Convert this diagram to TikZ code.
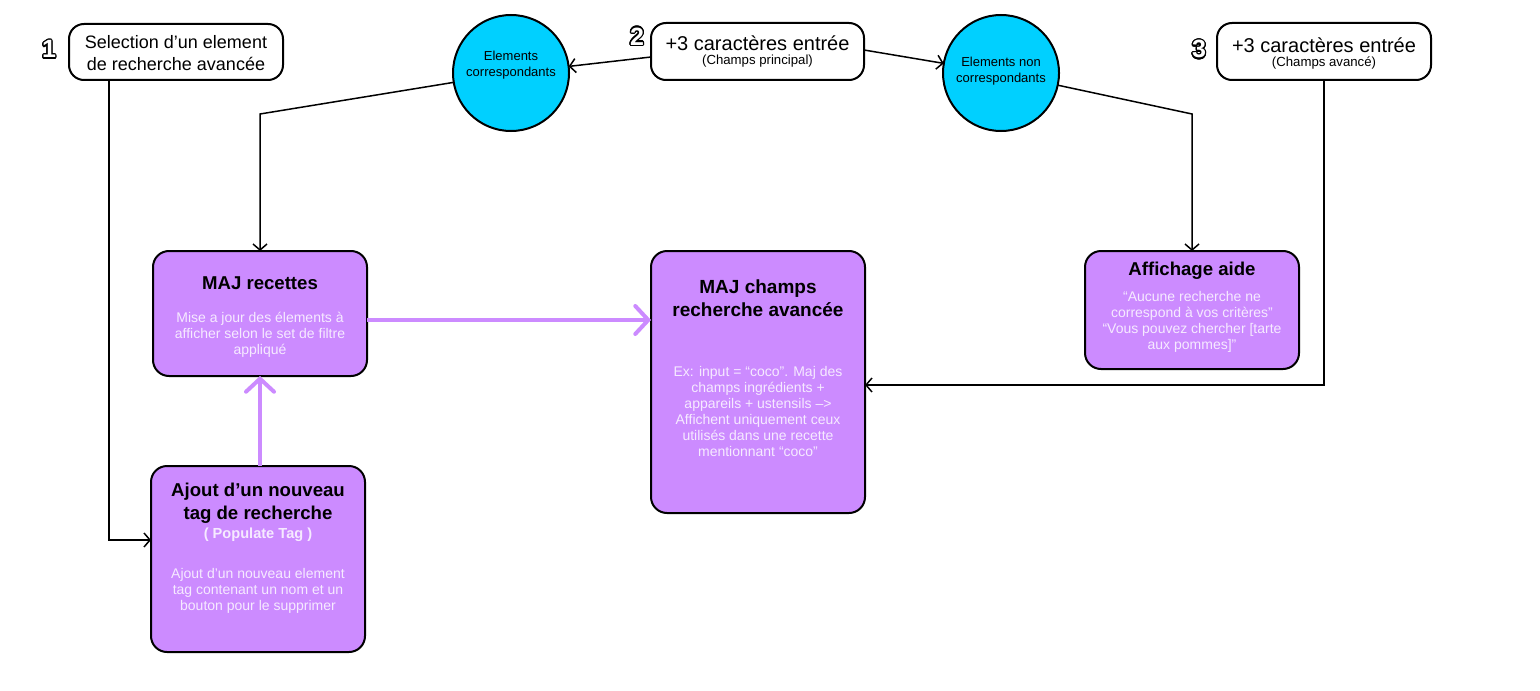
\documentclass[tikz,border=0pt]{standalone}
\usepackage{fontspec}
\setmainfont{Liberation Sans}
\usepackage{contour}
\contourlength{0.6pt}
\contournumber{24}
\usetikzlibrary{arrows.meta}
\definecolor{purp}{HTML}{CC8BFF}
\definecolor{cyanc}{HTML}{00D0FF}
\definecolor{bodytxt}{HTML}{F6EAFF}
\tikzset{
  wbox/.style={draw=black, line width=1pt, fill=white, rounded corners=7.5pt, inner sep=0pt, outer sep=0pt},
  pbox/.style={draw=black, line width=1pt, fill=purp, rounded corners=8pt, inner sep=0pt, outer sep=0pt, minimum width=107pt},
  circ/.style={draw=black, line width=1pt, fill=cyanc, circle, minimum size=58pt, inner sep=0pt, outer sep=0pt},
  txt/.style={inner sep=0pt, align=center},
  conn/.style={line width=0.75pt, -{Straight Barb[length=3pt,width=7pt]}},
  pconn/.style={draw=purp, line width=2pt, -{Straight Barb[length=6.5pt,width=14pt,line cap=round]}},
  numb/.style={inner sep=0pt, font=\bfseries\fontsize{12.5pt}{12.5pt}\selectfont},
  ttl/.style={txt, font=\bfseries\fontsize{9.3pt}{11.5pt}\selectfont},
  sml/.style={txt, text=bodytxt, font=\fontsize{7pt}{8pt}\selectfont},
}
\begin{document}
\begin{tikzpicture}[x=0.5pt, y=-0.5pt]
\useasboundingbox (0,0) rectangle (1540,690);
% top row
\node[wbox, minimum width=107pt, minimum height=28pt] (b1) at (176,52) {};
\node[txt, font=\fontsize{9pt}{11pt}\selectfont] (b1t) at (176,53) {Selection d’un element\\de recherche avancée};
\node[numb] (n1) at (49,50) {\contour{black}{\textcolor{white}{1}}};

\node[wbox, minimum width=106.5pt, minimum height=28.5pt] (b2) at (757.5,51.5) {};
\node[txt, font=\fontsize{10pt}{10pt}\selectfont] (b2t) at (757.5,43) {+3 caractères entrée};
\node[txt, font=\fontsize{6.6pt}{6.6pt}\selectfont] (b2s) at (757.5,61) {(Champs principal)};
\node[numb] (n2) at (637,37) {\contour{black}{\textcolor{white}{2}}};

\node[wbox, minimum width=107pt, minimum height=28.5pt] (b3) at (1324,51.5) {};
\node[txt, font=\fontsize{10pt}{10pt}\selectfont] (b3t) at (1324,45) {+3 caractères entrée};
\node[txt, font=\fontsize{6.6pt}{6.6pt}\selectfont] (b3s) at (1324,63) {(Champs avancé)};
\node[numb] (n3) at (1199,50) {\contour{black}{\textcolor{white}{3}}};

\node[circ] (c1) at (511,73) {};
\node[txt, font=\fontsize{6.5pt}{8.2pt}\selectfont] (c1t) at (511,65) {Elements\\correspondants};
\node[circ] (c2) at (1001,73) {};
\node[txt, font=\fontsize{6.5pt}{8.2pt}\selectfont] (c2t) at (1001,71) {Elements non\\correspondants};

% purple boxes
\node[pbox, minimum height=62.5pt] (m1) at (260,313.5) {};
\node[ttl] (m1t) at (260,283) {MAJ recettes};
\node[sml] (m1b) at (260,335) {Mise a jour des élements à\\afficher selon le set de filtre\\appliqué};

\node[pbox, minimum height=131pt] (m2) at (758,382) {};
\node[txt, font=\bfseries\fontsize{9.5pt}{11.5pt}\selectfont] (m2t) at (758,298) {MAJ champs\\recherche avancée};
\node[sml] (m2b) at (758,411) {Ex: input = “coco”. Maj des\\champs ingrédients +\\appareils + ustensils --{}>\\Affichent uniquement ceux\\utilisés dans une recette\\mentionnant “coco”};

\node[pbox, minimum height=59pt] (h1) at (1192,310) {};
\node[ttl] (h1t) at (1192,271) {Affichage aide};
\node[sml] (h1b) at (1192,322) {“Aucune recherche ne\\correspond à vos critères”\\“Vous pouvez chercher [tarte\\aux pommes]”};

\node[pbox, minimum height=93pt] (a1) at (258,559) {};
\node[ttl] (a1t) at (258,503.5) {Ajout d’un nouveau\\tag de recherche};
\node[txt, text=bodytxt, font=\bfseries\fontsize{7.3pt}{7.3pt}\selectfont] (a1p) at (258,535) {( Populate Tag )};
\node[sml] (a1b) at (258,591) {Ajout d’un nouveau element\\tag contenant un nom et un\\bouton pour le supprimer};

% connectors
\coordinate (k1) at (260,114);
\coordinate (k2) at (1192,114);
\coordinate (k3) at (1324,385);
\coordinate (k4) at (109,540);
\draw[conn] (b2.west |- 0,57) -- (c1);
\draw[conn] (b2.east |- 0,50) -- (c2);
\draw[conn] (c1) -- (k1) -- (m1.north);
\draw[conn] (c2) -- (k2) -- (h1.north);
\draw[conn] (b3.south) -- (k3) -- (m2.east |- k3);
\draw[conn] (b1.south -| k4) -- (k4) -- (a1.west |- k4);
\draw[pconn] (m1.east |- 0,320) -- (m2.west |- 0,320);
\draw[pconn] (a1.north -| 260,0) -- (m1.south);
\end{tikzpicture}
\end{document}
